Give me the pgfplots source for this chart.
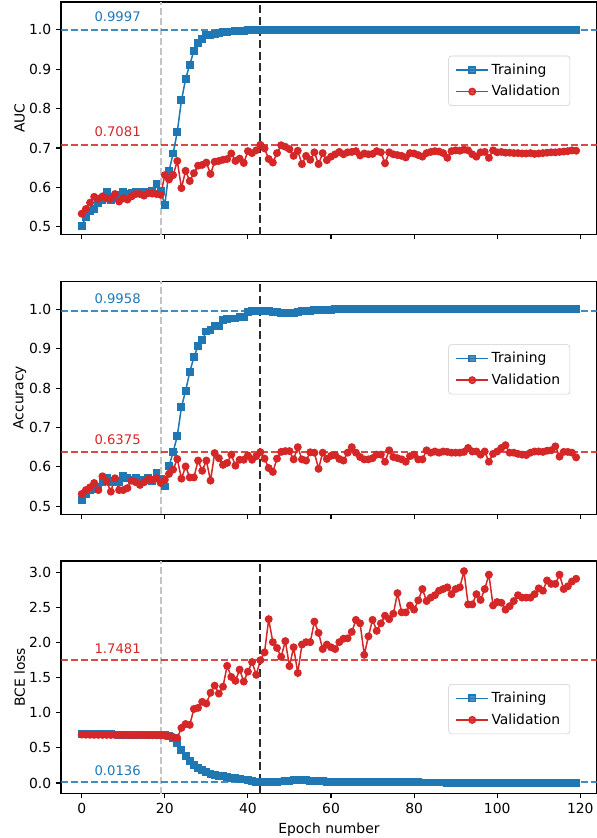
\documentclass[border=0pt]{standalone}
\usepackage{fontspec}
\setmainfont{DejaVu Sans}
\usepackage{pgfplots}
\usepackage{pgfplotstable}
\pgfplotsset{compat=1.18}
\usepgfplotslibrary{groupplots}
\definecolor{trainC}{HTML}{1F77B4}
\definecolor{valC}{HTML}{D62728}
\definecolor{bestC}{HTML}{2B2B2B}
\definecolor{splitC}{HTML}{C4C4C4}

% ep = epoch; tA/vA = AUC, tC/vC = accuracy, tB/vB = BCE loss (train/val)
\pgfplotstableread{
ep tA vA tC vC tB vB
0 0.502 0.533 0.516 0.531 0.700 0.690
1 0.524 0.545 0.531 0.541 0.698 0.688
2 0.540 0.561 0.540 0.548 0.696 0.687
3 0.544 0.576 0.543 0.559 0.695 0.686
4 0.561 0.571 0.550 0.541 0.694 0.686
5 0.568 0.577 0.561 0.576 0.693 0.685
6 0.588 0.572 0.571 0.563 0.692 0.685
7 0.568 0.571 0.561 0.537 0.692 0.684
8 0.575 0.583 0.565 0.571 0.691 0.685
9 0.580 0.564 0.561 0.541 0.690 0.684
10 0.588 0.572 0.576 0.541 0.690 0.684
11 0.583 0.569 0.571 0.546 0.689 0.683
12 0.585 0.577 0.567 0.565 0.688 0.683
13 0.589 0.583 0.571 0.561 0.688 0.683
14 0.586 0.583 0.565 0.554 0.687 0.682
15 0.587 0.579 0.567 0.561 0.687 0.682
16 0.588 0.585 0.573 0.570 0.686 0.681
17 0.592 0.584 0.565 0.567 0.686 0.681
18 0.608 0.583 0.584 0.571 0.685 0.680
19 0.590 0.581 0.569 0.559 0.685 0.678
20 0.556 0.631 0.550 0.567 0.682 0.675
21 0.641 0.620 0.601 0.582 0.670 0.668
22 0.686 0.631 0.638 0.593 0.635 0.655
23 0.741 0.667 0.678 0.620 0.565 0.640
24 0.821 0.598 0.752 0.570 0.470 0.785
25 0.875 0.642 0.793 0.601 0.385 0.840
26 0.912 0.616 0.841 0.573 0.310 0.828
27 0.947 0.636 0.879 0.573 0.255 1.054
28 0.966 0.655 0.907 0.616 0.215 1.070
29 0.976 0.657 0.922 0.590 0.180 1.156
30 0.986 0.663 0.944 0.616 0.155 1.132
31 0.988 0.634 0.947 0.565 0.135 1.285
32 0.990 0.665 0.958 0.635 0.120 1.386
33 0.992 0.667 0.958 0.622 0.105 1.273
34 0.994 0.670 0.973 0.605 0.095 1.371
35 0.995 0.672 0.975 0.610 0.085 1.668
36 0.996 0.686 0.977 0.631 0.075 1.510
37 0.997 0.667 0.977 0.603 0.068 1.454
38 0.998 0.673 0.980 0.618 0.060 1.615
39 0.998 0.662 0.981 0.618 0.050 1.444
40 0.999 0.692 0.993 0.629 0.040 1.585
41 0.999 0.687 0.995 0.618 0.030 1.722
42 0.9995 0.694 0.996 0.627 0.020 1.540
43 0.9997 0.7081 0.9958 0.6375 0.0136 1.7481
44 1.000 0.699 0.997 0.621 0.012 1.859
45 1.000 0.672 0.995 0.597 0.015 2.332
46 1.000 0.663 0.994 0.587 0.018 2.005
47 1.000 0.687 0.993 0.621 0.020 1.922
48 1.000 0.707 0.991 0.638 0.022 1.796
49 1.000 0.703 0.990 0.640 0.025 2.020
50 1.000 0.697 0.990 0.640 0.030 1.664
51 1.000 0.680 0.991 0.619 0.038 1.932
52 1.000 0.693 0.993 0.650 0.045 1.566
53 1.000 0.659 0.995 0.619 0.048 1.971
54 1.000 0.680 0.996 0.616 0.040 2.005
55 1.000 0.670 0.997 0.637 0.030 2.005
56 1.000 0.689 0.998 0.636 0.025 2.298
57 1.000 0.659 0.998 0.595 0.028 2.137
58 1.000 0.687 0.999 0.636 0.024 1.907
59 1.000 0.669 0.999 0.620 0.020 1.971
60 1.000 0.678 0.999 0.628 0.018 1.932
61 1.000 0.684 1.000 0.630 0.016 1.907
62 1.000 0.690 1.000 0.620 0.015 2.005
63 1.000 0.684 1.000 0.616 0.015 2.054
64 1.000 0.689 1.000 0.636 0.014 2.060
65 1.000 0.690 1.000 0.650 0.014 2.151
66 1.000 0.692 1.000 0.636 0.013 2.322
67 1.000 0.681 1.000 0.625 0.013 2.273
68 1.000 0.686 1.000 0.619 0.012 1.825
69 1.000 0.684 1.000 0.619 0.012 2.088
70 1.000 0.685 1.000 0.622 0.011 2.322
71 1.000 0.692 1.000 0.631 0.011 2.166
72 1.000 0.689 1.000 0.631 0.011 2.273
73 1.000 0.661 1.000 0.613 0.010 2.381
74 1.000 0.689 1.000 0.642 0.010 2.332
75 1.000 0.684 1.000 0.625 0.010 2.410
76 1.000 0.682 1.000 0.622 0.010 2.703
77 1.000 0.680 1.000 0.619 0.009 2.429
78 1.000 0.676 1.000 0.613 0.009 2.429
79 1.000 0.687 1.000 0.627 0.009 2.527
80 1.000 0.686 1.000 0.631 0.009 2.468
81 1.000 0.682 1.000 0.619 0.009 2.600
82 1.000 0.678 1.000 0.619 0.008 2.761
83 1.000 0.687 1.000 0.642 0.008 2.590
84 1.000 0.690 1.000 0.636 0.008 2.639
85 1.000 0.692 1.000 0.639 0.008 2.673
86 1.000 0.691 1.000 0.636 0.008 2.737
87 1.000 0.687 1.000 0.639 0.008 2.761
88 1.000 0.675 1.000 0.638 0.007 2.785
89 1.000 0.692 1.000 0.636 0.007 2.688
90 1.000 0.694 1.000 0.636 0.007 2.761
91 1.000 0.693 1.000 0.636 0.007 2.785
92 1.000 0.696 1.000 0.638 0.007 3.015
93 1.000 0.694 1.000 0.648 0.007 2.542
94 1.000 0.684 1.000 0.639 0.007 2.542
95 1.000 0.678 1.000 0.639 0.006 2.688
96 1.000 0.689 1.000 0.631 0.006 2.605
97 1.000 0.690 1.000 0.639 0.006 2.761
98 1.000 0.675 1.000 0.613 0.006 2.966
99 1.000 0.694 1.000 0.633 0.006 2.527
100 1.000 0.689 1.000 0.639 0.006 2.576
101 1.000 0.690 1.000 0.648 0.006 2.566
102 1.000 0.688 1.000 0.655 0.006 2.468
103 1.000 0.688 1.000 0.636 0.006 2.517
104 1.000 0.687 1.000 0.636 0.005 2.590
105 1.000 0.687 1.000 0.633 0.005 2.673
106 1.000 0.686 1.000 0.631 0.005 2.639
107 1.000 0.686 1.000 0.630 0.005 2.639
108 1.000 0.687 1.000 0.636 0.005 2.639
109 1.000 0.685 1.000 0.639 0.005 2.688
110 1.000 0.686 1.000 0.639 0.005 2.771
111 1.000 0.687 1.000 0.638 0.005 2.737
112 1.000 0.688 1.000 0.641 0.005 2.883
113 1.000 0.689 1.000 0.642 0.005 2.834
114 1.000 0.689 1.000 0.652 0.005 2.834
115 1.000 0.690 1.000 0.626 0.005 2.966
116 1.000 0.691 1.000 0.638 0.005 2.761
117 1.000 0.692 1.000 0.638 0.005 2.800
118 1.000 0.694 1.000 0.636 0.005 2.868
119 1.000 0.693 1.000 0.624 0.005 2.907
}\hist

\pgfplotsset{
  trainplot/.style={color=trainC, line width=1.1pt, mark=square*, mark size=2.3pt, mark options={solid}},
  valplot/.style={color=valC, line width=1.1pt, mark=*, mark size=2.3pt, mark options={solid}},
}
\tikzset{
  bestline/.style={bestC, line width=1.5pt, dash pattern=on 5.8pt off 2.6pt},
  splitline/.style={splitC, line width=1.2pt, dash pattern=on 5pt off 2.2pt},
  refline/.style={line width=1.2pt, dash pattern=on 5pt off 2.2pt, opacity=0.85},
  annot/.style={anchor=base west, font=\fontsize{9.5}{11}\selectfont},
}

\begin{document}
\begin{tikzpicture}
\begin{groupplot}[
  group style={group size=1 by 3, vertical sep=33.8pt, x descriptions at=edge bottom},
  width=386pt, height=167.5pt, scale only axis,
  xmin=-5, xmax=124,
  xtick={0,20,...,120},
  xtick pos=left, ytick pos=left,
  tick align=outside, major tick length=3.5pt,
  axis line style={line width=0.8pt},
  every tick/.style={black, line width=0.8pt},
  tick label style={font=\fontsize{10}{12}\selectfont},
  label style={font=\fontsize{10}{12}\selectfont},
  /pgf/number format/assume math mode=true,
  yticklabel style={/pgf/number format/.cd, fixed, fixed zerofill, precision=1},
  ylabel style={at={(axis description cs:-0.077,0.5)}, anchor=center},
  legend cell align=left,
  legend image code/.code={\draw[mark repeat=2,mark phase=2] plot coordinates {(0cm,0cm) (0.4cm,0cm) (0.8cm,0cm)};},
  legend style={font=\fontsize{10}{12}\selectfont, draw=black!20, rounded corners=2pt,
    fill=white, fill opacity=0.8, text opacity=1, anchor=north east,
    inner xsep=5pt, inner ysep=3.5pt, row sep=2.5pt},
]
% ---- AUC ----
\nextgroupplot[ymin=0.48, ymax=1.071, ytick={0.5,0.6,...,1.0}, ylabel={AUC},
  legend style={at={(0.95,0.769)}}]
\draw[splitline] (axis cs:19,0.48) -- (axis cs:19,1.071);
\draw[refline, trainC] (axis cs:-5,0.9997) -- (axis cs:124,0.9997);
\draw[refline, valC] (axis cs:-5,0.7081) -- (axis cs:124,0.7081);
\addplot[trainplot] table[x=ep, y=tA] {\hist};
\addplot[valplot] table[x=ep, y=vA] {\hist};
\draw[bestline] (axis cs:43,0.48) -- (axis cs:43,1.071);
\node[annot, text=trainC, yshift=5.8pt] at (axis cs:1.9,0.9997) {0.9997};
\node[annot, text=valC, yshift=5.8pt] at (axis cs:1.9,0.7081) {0.7081};
\legend{Training,Validation}
% ---- Accuracy ----
\nextgroupplot[ymin=0.48, ymax=1.071, ytick={0.5,0.6,...,1.0}, ylabel={Accuracy},
  legend style={at={(0.95,0.73)}}]
\draw[splitline] (axis cs:19,0.48) -- (axis cs:19,1.071);
\draw[refline, trainC] (axis cs:-5,0.9958) -- (axis cs:124,0.9958);
\draw[refline, valC] (axis cs:-5,0.6375) -- (axis cs:124,0.6375);
\addplot[trainplot] table[x=ep, y=tC] {\hist};
\addplot[valplot] table[x=ep, y=vC] {\hist};
\draw[bestline] (axis cs:43,0.48) -- (axis cs:43,1.071);
\node[annot, text=trainC, yshift=5.8pt] at (axis cs:1.9,0.9958) {0.9958};
\node[annot, text=valC, yshift=5.8pt] at (axis cs:1.9,0.6375) {0.6375};
\legend{Training,Validation}
% ---- BCE loss ----
\nextgroupplot[ymin=-0.15, ymax=3.16, ytick={0,0.5,...,3.0}, ylabel={BCE loss},
  xlabel={Epoch number}, xlabel style={at={(axis description cs:0.5,-0.155)}, anchor=center},
  legend style={at={(0.95,0.471)}}]
\draw[splitline] (axis cs:19,-0.15) -- (axis cs:19,3.16);
\draw[refline, trainC] (axis cs:-5,0.0136) -- (axis cs:124,0.0136);
\draw[refline, valC] (axis cs:-5,1.7481) -- (axis cs:124,1.7481);
\addplot[trainplot] table[x=ep, y=tB] {\hist};
\addplot[valplot] table[x=ep, y=vB] {\hist};
\draw[bestline] (axis cs:43,-0.15) -- (axis cs:43,3.16);
\node[annot, text=trainC, yshift=4.7pt] at (axis cs:1.9,0.0136) {0.0136};
\node[annot, text=valC, yshift=4.7pt] at (axis cs:1.9,1.7481) {1.7481};
\legend{Training,Validation}
\end{groupplot}
\pgfresetboundingbox
\path[use as bounding box] ([xshift=-43.9pt,yshift=1.44pt]group c1r1.north west)
  rectangle ([yshift=-32pt]group c1r3.south east);
\end{tikzpicture}
\end{document}
